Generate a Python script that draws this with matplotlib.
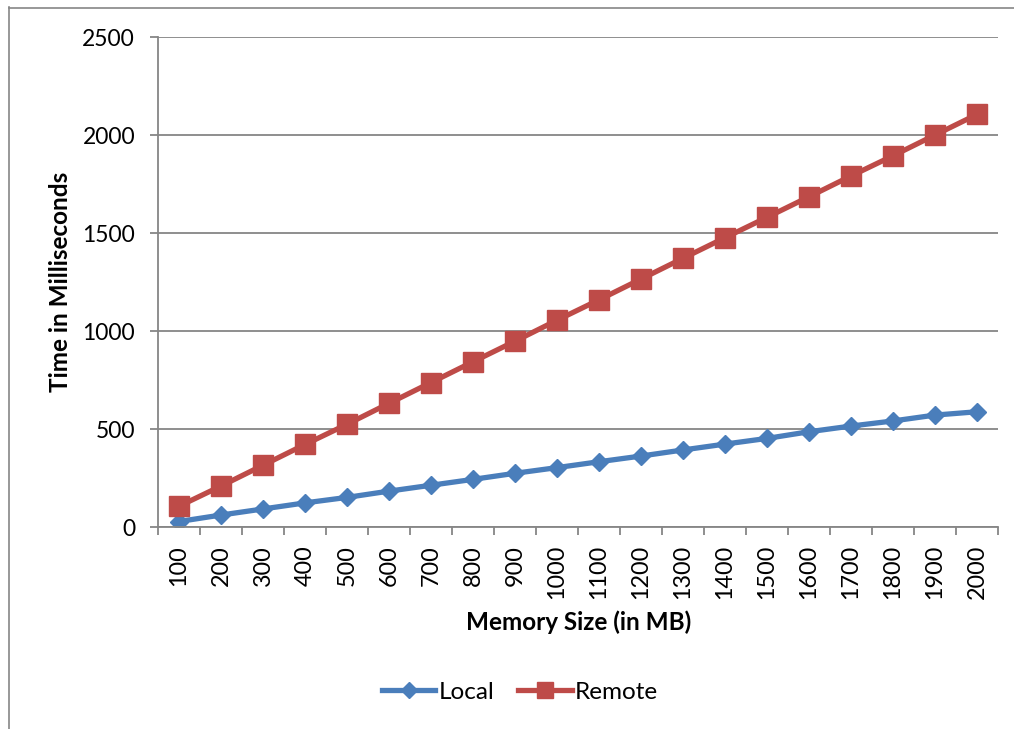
import matplotlib
matplotlib.use("Agg")
import matplotlib.pyplot as plt
from matplotlib.lines import Line2D
import numpy as np

plt.rcParams['font.family'] = ['Lato', 'DejaVu Sans']

memory_sizes = [100, 200, 300, 400, 500, 600, 700, 800, 900, 1000,
                1100, 1200, 1300, 1400, 1500, 1600, 1700, 1800, 1900, 2000]
local_ms = [28, 61, 92, 123, 151, 183, 213, 243, 274, 303,
            333, 362, 393, 423, 452, 486, 515, 541, 571, 588]
remote_ms = [106, 209, 315, 421, 524, 631, 737, 843, 948, 1055,
             1159, 1265, 1371, 1476, 1580, 1685, 1791, 1894, 2000, 2105]
y_ticks = [0, 500, 1000, 1500, 2000, 2500]

blue = '#4A7EBB'
red = '#BE4B48'
gray = '#868686'

W, H = 1014, 729
fig = plt.figure(figsize=(W / 100, H / 100), dpi=100)
ax = fig.add_axes([158 / W, 1 - 527 / H, (998 - 158) / W, (527 - 37) / H])

x = np.arange(len(memory_sizes))
ax.plot(x, local_ms, color=blue, lw=3.8, marker='D', ms=9.6,
        mfc=blue, mec=blue, label='Local', solid_joinstyle='round')
ax.plot(x, remote_ms, color=red, lw=3.8, marker='s', ms=14.5,
        mfc=red, mec=red, label='Remote', solid_joinstyle='round')

ax.set_xlim(-0.5, len(memory_sizes) - 0.5)
ax.set_ylim(0, 2500)
ax.set_yticks(y_ticks)
ax.set_yticklabels([str(v) for v in y_ticks])
ax.yaxis.grid(True, color=gray, lw=1.3)
ax.set_axisbelow(True)

ax.set_xticks(x)
ax.set_xticklabels([str(m) for m in memory_sizes], rotation=90)
ax.set_xticks(np.arange(-0.5, len(memory_sizes)), minor=True)
ax.tick_params(axis='x', which='major', length=0, pad=13, labelsize=16.8)
ax.tick_params(axis='x', which='minor', length=6, width=1.3, color=gray)
ax.tick_params(axis='y', length=5.5, width=1.3, color=gray, pad=11, labelsize=16.5)

for side in ('top', 'right'):
    ax.spines[side].set_visible(False)
for side in ('left', 'bottom'):
    ax.spines[side].set_color(gray)
    ax.spines[side].set_linewidth(1.3)

fig.text(579 / W, 1 - 622 / H, 'Memory Size (in MB)', ha='center', va='center',
         fontsize=17.5, fontweight='bold')
fig.text(60 / W, 1 - 282 / H, 'Time in Milliseconds', ha='center', va='center',
         rotation=90, fontsize=17.5, fontweight='bold')

fig.legend(loc='center', bbox_to_anchor=(520 / W, 1 - 692 / H), ncol=2,
           frameon=False, fontsize=17.5, handlelength=2.2, handletextpad=0.12,
           columnspacing=1.0, markerscale=0.8)

# outer chart frame
fig.add_artist(Line2D([8.5 / W, 8.5 / W], [1 - 7 / H, 0], transform=fig.transFigure,
                      color=gray, lw=1.2))
fig.add_artist(Line2D([8.5 / W, 1], [1 - 7.5 / H, 1 - 7.5 / H], transform=fig.transFigure,
                      color=gray, lw=1.2))

fig.savefig('out.png', dpi=100, facecolor='white')
